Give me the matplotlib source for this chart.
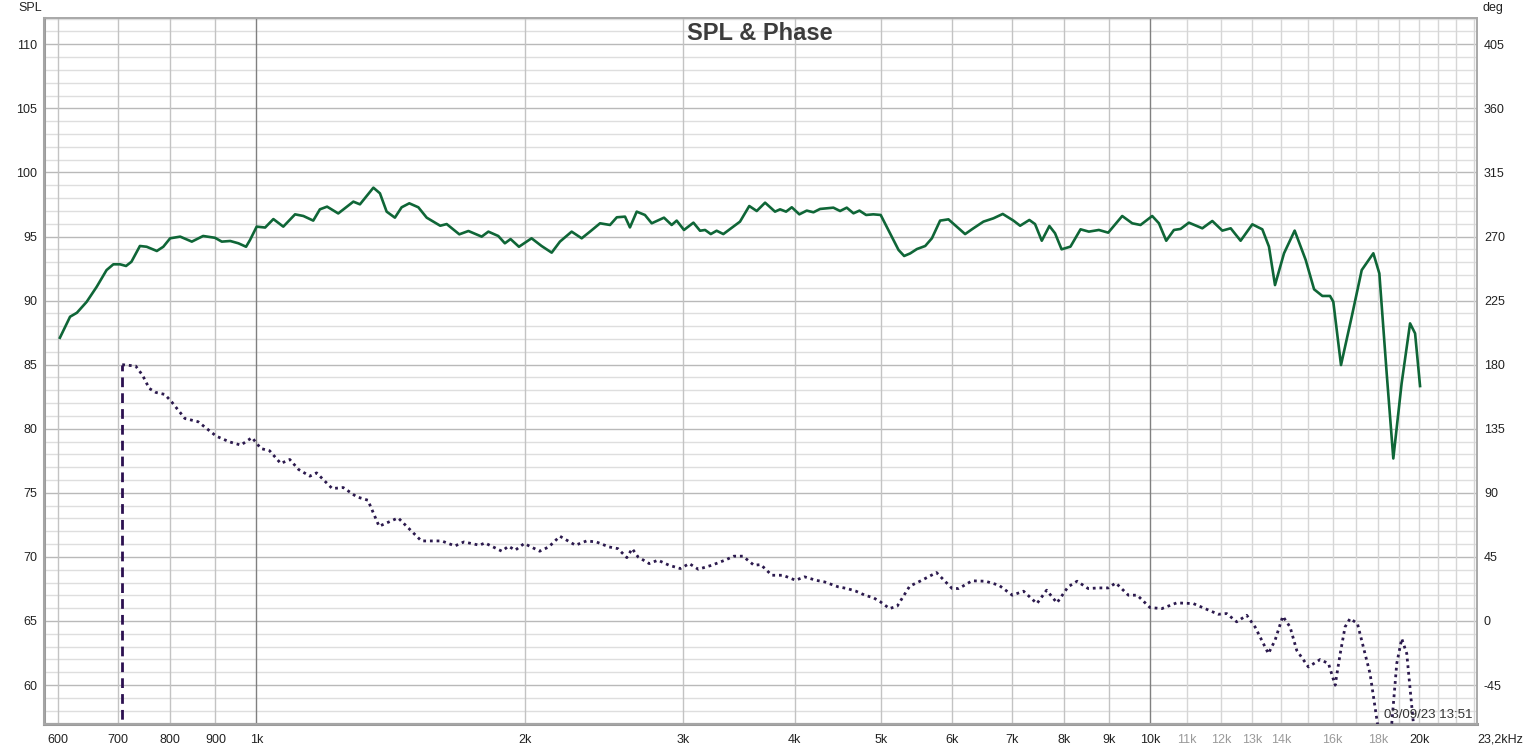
import matplotlib
matplotlib.use("Agg")
import matplotlib.pyplot as plt
import numpy as np

# ---------------- data ----------------
spl_freq = [603, 619, 630, 646, 663, 680, 692, 704, 715, 725, 741, 754, 774, 787, 801, 822, 847, 872, 899,
            915, 935, 955, 974, 984, 1001, 1023, 1045, 1072, 1105, 1129, 1158, 1178, 1200, 1235, 1284, 1306,
            1352, 1375, 1399, 1429, 1454, 1483, 1518, 1551, 1606, 1633, 1687, 1727, 1787, 1818, 1865, 1897,
            1925, 1967, 2032, 2085, 2140, 2186, 2253, 2312, 2362, 2424, 2487, 2531, 2585, 2618, 2664, 2721,
            2769, 2858, 2915, 2953, 3009, 3083, 3136, 3177, 3224, 3273, 3330, 3417, 3476, 3560, 3629, 3708,
            3804, 3854, 3914, 3972, 4050, 4128, 4200, 4272, 4421, 4498, 4576, 4656, 4728, 4810, 4900, 4994,
            5116, 5229, 5305, 5388, 5482, 5601, 5698, 5820, 5946, 6075, 6207, 6341, 6507, 6677, 6839, 7030,
            7152, 7324, 7432, 7562, 7712, 7825, 7958, 8142, 8356, 8537, 8760, 8974, 9303, 9546, 9752, 10050,
            10226, 10420, 10628, 10812, 11046, 11435, 11733, 12039, 12302, 12620, 13007, 13346, 13576, 13789,
            14113, 14505, 14923, 15249, 15578, 15888, 16023, 16344, 16801, 17240, 17764, 18040, 18385, 18701,
            19106, 19526, 19780, 20035]
spl_db = [87.1, 88.74, 89.05, 89.9, 91.08, 92.38, 92.83, 92.83, 92.7, 93.03, 94.26, 94.2, 93.87, 94.2, 94.86,
          94.99, 94.6, 95.04, 94.9, 94.6, 94.65, 94.47, 94.2, 94.73, 95.77, 95.7, 96.36, 95.77, 96.73, 96.6,
          96.24, 97.12, 97.33, 96.8, 97.72, 97.51, 98.81, 98.37, 96.94, 96.47, 97.28, 97.59, 97.28, 96.47,
          95.84, 95.97, 95.17, 95.43, 94.99, 95.38, 95.04, 94.47, 94.8, 94.2, 94.86, 94.26, 93.74, 94.6,
          95.38, 94.86, 95.38, 96.03, 95.9, 96.5, 96.55, 95.71, 96.94, 96.68, 96.03, 96.47, 95.9, 96.24,
          95.51, 96.08, 95.45, 95.51, 95.19, 95.45, 95.19, 95.77, 96.16, 97.38, 96.99, 97.64, 96.94, 97.12,
          96.94, 97.28, 96.73, 97.02, 96.89, 97.15, 97.25, 96.99, 97.25, 96.81, 97.02, 96.68, 96.73, 96.68,
          95.25, 93.95, 93.48, 93.68, 94.02, 94.26, 94.86, 96.24, 96.34, 95.77, 95.19, 95.64, 96.16, 96.42,
          96.76, 96.24, 95.84, 96.29, 95.97, 94.67, 95.82, 95.25, 94.0, 94.21, 95.56, 95.38, 95.51, 95.3,
          96.6, 96.03, 95.9, 96.6, 96.03, 94.67, 95.51, 95.59, 96.08, 95.64, 96.21, 95.46, 95.64, 94.67,
          95.95, 95.56, 94.21, 91.21, 93.69, 95.46, 93.17, 90.88, 90.36, 90.36, 89.91, 84.97, 88.74, 92.38,
          93.69, 92.12, 84.32, 77.68, 83.54, 88.22, 87.44, 83.33]

phase_freq = [708, 733, 746, 759, 772, 790, 804, 832, 861, 902, 933, 961, 989, 1012, 1035, 1065, 1090, 1115,
              1148, 1168, 1216, 1251, 1295, 1333, 1372, 1441, 1530, 1612, 1668, 1707, 1777, 1802, 1882, 1915,
              1948, 1994, 2075, 2124, 2186, 2275, 2341, 2401, 2480, 2538, 2597, 2633, 2673, 2751, 2814, 2896,
              2981, 3050, 3122, 3231, 3344, 3422, 3502, 3604, 3667, 3773, 3882, 4011, 4105, 4225, 4323, 4474,
              4579, 4686, 4795, 4905, 4991, 5109, 5211, 5381, 5537, 5766, 6002, 6107, 6319, 6543, 6772, 7009,
              7216, 7468, 7657, 7864, 8093, 8282, 8521, 8770, 8974, 9151, 9452, 9670, 9993, 10304, 10703,
              11174, 11915, 12175, 12494, 12821, 13099, 13556, 13792, 14068, 14334, 14582, 15027, 15488,
              15826, 16100, 16311, 16516, 16730, 17050, 17613, 17953, 18250, 18627, 18868, 19111, 19360,
              19695, 20000]
phase_deg = [180, 179.0, 172.6, 163.3, 160.5, 159.1, 153.9, 142.2, 139.9, 129.8, 125.8, 123.5, 128.8, 121.1,
             119.5, 110.6, 113.4, 106.4, 101.7, 104.0, 93.0, 93.7, 87.2, 84.8, 66.5, 72.4, 56.2, 56.2, 52.7,
             55.5, 53.2, 54.8, 49.0, 52.5, 49.7, 54.4, 49.0, 52.0, 59.5, 53.2, 56.2, 55.5, 52.0, 50.8, 44.5,
             50.8, 45.0, 40.3, 42.7, 39.1, 36.8, 40.3, 36.3, 39.1, 42.7, 45.5, 45.5, 39.1, 39.6, 32.1, 32.1,
             28.6, 31.0, 28.6, 27.4, 24.0, 22.8, 20.9, 18.1, 16.2, 13.4, 8.7, 10.4, 24.4, 28.2, 34.0, 22.8,
             22.8, 28.2, 27.9, 25.1, 18.1, 20.9, 12.2, 21.6, 12.7, 24.0, 27.9, 22.8, 23.2, 23.2, 26.7, 18.1,
             18.1, 9.4, 8.7, 12.7, 12.2, 4.7, 5.2, -0.6, 4.0, -4.2, -22.9, -13.5, 3.3, -4.2, -20.6, -32.3,
             -27.1, -29.9, -45.1, -22.9, -4.2, 1.7, -1.8, -36.9, -72, -105, -72, -29.9, -12.4, -22.9, -72, -95]

wrap_freq = [708, 708]
wrap_deg = [-80, 180]

xtick_vals = [600, 700, 800, 900, 1000, 2000, 3000, 4000, 5000, 6000, 7000, 8000, 9000, 10000,
              11000, 12000, 13000, 14000, 16000, 18000, 20000, 23200]
xtick_labels = ["600", "700", "800", "900", "1k", "2k", "3k", "4k", "5k", "6k", "7k", "8k", "9k", "10k",
                "11k", "12k", "13k", "14k", "16k", "18k", "20k", "23,2kHz"]
xtick_gray = ["11k", "12k", "13k", "14k", "16k", "18k"]

spl_ticks = [60, 65, 70, 75, 80, 85, 90, 95, 100, 105, 110]
deg_ticks = [-45, 0, 45, 90, 135, 180, 225, 270, 315, 360, 405]

# ---------------- figure ----------------
W, H = 1534, 749
fig = plt.figure(figsize=(W / 100, H / 100), dpi=100)
fig.patch.set_facecolor("white")

x0, x1, y0, y1 = 44, 1477, 18, 724
ax = fig.add_axes([x0 / W, 1 - y1 / H, (x1 - x0) / W, (y1 - y0) / H])
ax.set_xscale("log")
fmin, fmax = 578.8, 23200
smin, smax = 56.96, 112.05
ax.set_xlim(fmin, fmax)
ax.set_ylim(smin, smax)

# grid
for v in range(57, 113):
    if v % 5 == 0:
        ax.axhline(v, color="#b9b9b9", lw=1.0, zorder=0)
    else:
        ax.axhline(v, color="#dedede", lw=1.0, zorder=0)
grid_f = [600, 700, 800, 900] + list(range(2000, 10000, 1000))
for f in grid_f:
    ax.axvline(f, color="#c3c3c3", lw=1.0, zorder=0.5)
for f in range(11000, 24000, 1000):
    ax.axvline(f, color="#d6d6d6", lw=1.0, zorder=0.5)
for f in [1000, 10000]:
    ax.axvline(f, color="#808080", lw=1.0, zorder=0.6)

# curves
ax.plot(spl_freq, spl_db, color="#0f6637", lw=1.9, zorder=3, solid_joinstyle="round")

ax2 = ax.twinx()
dmin = (smin - 110) * 9 + 405
dmax = (smax - 110) * 9 + 405
ax2.set_ylim(dmin, dmax)
ax2.set_xlim(fmin, fmax)
ax2.plot(phase_freq, phase_deg, color="#2c1a4e", lw=2.0, linestyle=(0, (1, 1.4)), zorder=3,
         dash_capstyle="butt")
ax2.plot(wrap_freq, wrap_deg, color="#2c1050", lw=2.0, linestyle=(0, (3.5, 2.2)), zorder=3)

# ticks
ax.set_xticks(xtick_vals)
ax.set_xticklabels(xtick_labels)
ax.xaxis.set_minor_locator(matplotlib.ticker.NullLocator())
ax.set_yticks(spl_ticks)
ax.set_yticklabels([str(v) for v in spl_ticks])
ax2.set_yticks(deg_ticks)
ax2.set_yticklabels([str(v) for v in deg_ticks])
for a in (ax, ax2):
    a.tick_params(axis="both", length=0, labelsize=9, colors="#222222")
ax.tick_params(axis="x", pad=7)
ax.tick_params(axis="y", pad=5)
ax2.tick_params(axis="y", pad=5)
for lab in ax.get_xticklabels() + ax.get_yticklabels() + ax2.get_yticklabels():
    lab.set_fontfamily("Liberation Sans")
for lab in ax.get_xticklabels():
    if lab.get_text() in xtick_gray:
        lab.set_color("#9a9a9a")
ax.get_xticklabels()[-1].set_horizontalalignment("left")
ax.get_xticklabels()[-1].set_x(23200)

# frame
for a in (ax, ax2):
    for s in a.spines.values():
        s.set_color("#a8a8a8")
        s.set_linewidth(1.2)
ax.spines["left"].set_linewidth(2.2)
ax.spines["bottom"].set_linewidth(2.2)
ax.spines["left"].set_color("#9a9a9a")
ax.spines["bottom"].set_color("#9a9a9a")

# texts
fig.text(760 / W, 1 - 33 / H, "SPL & Phase", ha="center", va="center", fontsize=17,
         fontweight="bold", color="#3c3c3c", family="Liberation Sans")
fig.text(30 / W, 1 - 8 / H, "SPL", ha="center", va="center", fontsize=9, color="#222222",
         family="Liberation Sans")
fig.text(1493 / W, 1 - 8 / H, "deg", ha="center", va="center", fontsize=9, color="#222222",
         family="Liberation Sans")
fig.text(1472 / W, 1 - 715 / H, "03/09/23 13:51", ha="right", va="center", fontsize=9.5,
         color="#333333", family="Liberation Sans")

fig.savefig("out.png", dpi=100, facecolor="white")
